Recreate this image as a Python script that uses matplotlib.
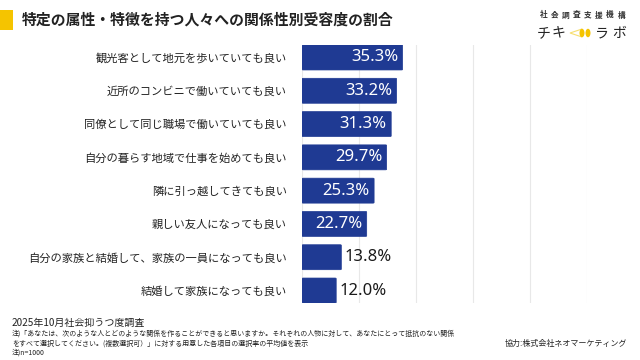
import matplotlib
matplotlib.use("Agg")
import matplotlib.pyplot as plt
from matplotlib.patches import Rectangle, Ellipse, Polygon, FancyBboxPatch

plt.rcParams['font.family'] = ['Noto Sans CJK JP', 'DejaVu Sans']

categories = [
    "観光客として地元を歩いていても良い",
    "近所のコンビニで働いていても良い",
    "同僚として同じ職場で働いていても良い",
    "自分の暮らす地域で仕事を始めても良い",
    "隣に引っ越してきても良い",
    "親しい友人になっても良い",
    "自分の家族と結婚して、家族の一員になっても良い",
    "結婚して家族になっても良い",
]
values = [35.3, 33.2, 31.3, 29.7, 25.3, 22.7, 13.8, 12.0]
xticks = [0, 20, 40, 60, 80, 100]

title = "特定の属性・特徴を持つ人々への関係性別受容度の割合"
survey = "2025年10月社会抑うつ度調査"
notes = [
    "注)「あなたは、次のような人とどのような関係を作ることができると思いますか。それぞれの人物に対して、あなたにとって抵抗のない関係",
    "をすべて選択してください。(複数選択可）」に対する用意した各項目の選択率の平均値を表示",
    "注)n=1000",
]
credit = "協力:株式会社ネオマーケティング"
org = "社会調査支援機構"

BAR = "#1f3a93"
W, H = 640, 360
fig = plt.figure(figsize=(6.4, 3.6), dpi=100)
fig.patch.set_facecolor("white")

def fx(px):
    return px / W

def fy(py):
    return 1 - py / H

ax = fig.add_axes([fx(302), fy(303), fx(587) - fx(302), fy(45) - fy(303)])
n = len(categories)
ypos = list(range(n))
bh = 0.75
ax.set_xlim(0, 100)
ax.set_ylim(n - 1 + bh / 2, -bh / 2)
for x in xticks:
    ax.axvline(x, color="#e8e8e8", lw=0.8, zorder=0)
for y, v in zip(ypos, values):
    p = FancyBboxPatch((0, y - bh / 2), v, bh,
                       boxstyle="round,pad=0,rounding_size=0.4",
                       mutation_aspect=0.04,
                       fc=BAR, ec=BAR, lw=0.5, zorder=2)
    ax.add_patch(p)
    if v >= 20:
        ax.text(v - 1.5, y, f"{v:.1f}%", ha="right", va="center",
                color="white", fontsize=12, family=["Noto Sans", "DejaVu Sans"], zorder=3)
    else:
        ax.text(v + 1.0, y, f"{v:.1f}%", ha="left", va="center",
                color="#1a1a1a", fontsize=12, family=["Noto Sans", "DejaVu Sans"], zorder=3)
ax.set_yticks(ypos)
ax.set_yticklabels(categories, fontsize=8.1, color="#222222")
ax.tick_params(axis="y", length=0, pad=11)
ax.set_xticks([])
for s in ax.spines.values():
    s.set_visible(False)

# title block
fig.patches.append(Rectangle((fx(0), fy(30)), fx(12.5), fy(10) - fy(30),
                             transform=fig.transFigure, fc="#f5c400", ec="none"))
fig.text(fx(22), fy(20), title, fontsize=10.7, weight="bold", color="#222222",
         va="center", ha="left")

# logo
for i, ch in enumerate(org):
    fig.text(fx(543.5 + 11.1 * i), fy(15), ch, fontsize=5.5, weight="bold",
             ha="center", va="center", color="#333333")
for cx, ch in [(544, "チ"), (558, "キ"), (602, "ラ"), (619, "ボ")]:
    fig.text(fx(cx), fy(33), ch, fontsize=10, ha="center", va="center", color="#222222")
fig.patches.append(Polygon([(fx(570), fy(33)), (fx(582), fy(29)), (fx(582), fy(37))],
                           closed=True, transform=fig.transFigure, fc="none",
                           ec="#f7df70", lw=0.8))
fig.patches.append(Ellipse((fx(582), fy(33)), fx(5), fy(0) - fy(8.5),
                           transform=fig.transFigure, fc="#f5c400", ec="none"))
fig.patches.append(Ellipse((fx(588), fy(33)), fx(5), fy(0) - fy(8.5),
                           transform=fig.transFigure, fc="#f5c400", ec="none"))

# footer
fig.text(fx(12), fy(323), survey, fontsize=7.2, va="center", ha="left", color="#222222")
for i, line in enumerate(notes):
    fig.text(fx(12), fy(334 + 9.5 * i), line, fontsize=5, va="center", ha="left", color="#222222")
fig.text(fx(627), fy(343), credit, fontsize=5.8, va="center", ha="right", color="#222222")

fig.savefig("out.png", dpi=100, facecolor="white")
